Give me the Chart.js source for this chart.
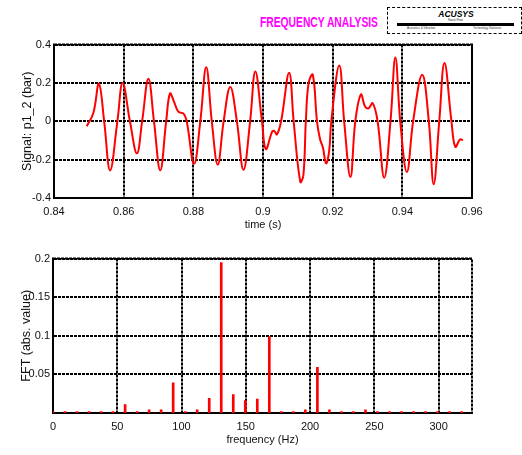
<!DOCTYPE html>
<html>
<head>
<meta charset="utf-8">
<script src="https://cdn.jsdelivr.net/npm/chart.js@4.4.1/dist/chart.umd.min.js"></script>
<style>
body { margin: 0; background: #fff; width: 522px; height: 455px; overflow: hidden; position: relative; font-family: "Liberation Sans", Arial, sans-serif; }
canvas { position: absolute; left: 0; }
#header { position: absolute; left: 260px; top: 15px; color: #ff00ff; font-weight: bold; font-size: 14px; line-height: 14px; white-space: nowrap; transform: scaleX(0.735); transform-origin: left top; }
#logo { position: absolute; left: 387px; top: 7px; width: 135px; height: 27px; border: 1.5px dashed #000; box-sizing: border-box; }
#logo .name { position: absolute; left: 0; width: 136px; top: 1px; text-align: center; font-size: 8.5px; font-weight: bold; font-style: italic; }
#logo .bar { position: absolute; left: 9px; top: 15px; width: 117px; height: 3px; background: #000; }
#logo .tiny { position: absolute; font-size: 3px; line-height: 3px; color: #333; white-space: nowrap; }
</style>
</head>
<body>
<div id="header">FREQUENCY ANALYSIS</div>
<div id="logo">
  <div class="name">ACUSYS</div>
  <div class="tiny" style="left:60px;top:11px">Noise Flow</div>
  <div class="bar"></div>
  <div class="tiny" style="left:19px;top:19px">Acoustics &amp; Vibration</div>
  <div class="tiny" style="left:85px;top:19px">Technology Solutions</div>
</div>
<canvas id="sig" width="522" height="200" style="top:35px"></canvas>
<canvas id="fft" width="522" height="201" style="top:249px"></canvas>
<script>
// time signal p1_2 (s, bar)
const time = [0.8494, 0.8513, 0.8529, 0.8544, 0.8561, 0.8582, 0.8597, 0.8618, 0.8638, 0.8653,
  0.8671, 0.8687, 0.8705, 0.8722, 0.8733, 0.8745, 0.8757, 0.8772, 0.8781, 0.8802,
  0.8820, 0.8837, 0.8853, 0.8870, 0.8887, 0.8906, 0.8925, 0.8944, 0.8963, 0.8978,
  0.8997, 0.9008, 0.9026, 0.9032, 0.9040, 0.9052, 0.9075, 0.9088, 0.9107, 0.9116,
  0.9123, 0.9131, 0.9143, 0.9155, 0.9164, 0.9172, 0.9181, 0.9190, 0.9196, 0.9219,
  0.9233, 0.9251, 0.9265, 0.9281, 0.9293, 0.9303, 0.9315, 0.9329, 0.9348, 0.9366,
  0.9380, 0.9394, 0.9413, 0.9431, 0.9457, 0.9476, 0.9490, 0.9506, 0.9521, 0.9541,
  0.9552, 0.9566, 0.9574];
const signal = [-0.026, 0.043, 0.196, 0.0, -0.256, 0.0, 0.200, 0.0, -0.167, 0.0,
  0.222, 0.0, -0.256, 0.0, 0.145, 0.100, 0.050, 0.040, 0.0, -0.222,
  0.0, 0.282, 0.0, -0.226, 0.0, 0.179, 0.0, -0.253, 0.0, 0.260,
  0.0, -0.145, -0.055, -0.050, -0.068, 0.0, 0.253, 0.0, -0.316, -0.280,
  0.0, 0.200, 0.243, 0.0, -0.095, -0.137, -0.219, -0.154, 0.0, 0.291,
  0.0, -0.291, 0.0, 0.140, 0.077, 0.068, 0.094, 0.0, -0.294, 0.0,
  0.333, 0.0, -0.265, 0.0, 0.243, 0.0, -0.328, 0.0, 0.304, 0.0,
  -0.133, -0.094, -0.099];

// spectrum lines (Hz, abs value)
const freq = [0, 9.35, 18.7, 28.05, 37.4, 46.75, 56.1, 65.45, 74.8, 84.15,
  93.5, 102.85, 112.2, 121.55, 130.9, 140.25, 149.6, 158.95, 168.3, 177.65,
  187.0, 196.35, 205.7, 215.05, 224.4, 233.75, 243.1, 252.45, 261.8, 271.15,
  280.5, 289.85, 299.2, 308.55, 317.9];
const amp = [0.002, 0.002, 0.002, 0.002, 0.002, 0.002, 0.011, 0.002, 0.004, 0.004,
  0.039, 0.002, 0.004, 0.019, 0.195, 0.024, 0.016, 0.018, 0.099, 0.002,
  0.002, 0.004, 0.059, 0.004, 0.002, 0.002, 0.004, 0.002, 0.002, 0.002,
  0.002, 0.002, 0.002, 0.002, 0.002];

const timeTicks = [0.84, 0.86, 0.88, 0.9, 0.92, 0.94, 0.96];
const sigTicks = [-0.4, -0.2, 0, 0.2, 0.4];
const freqTicks = [0, 50, 100, 150, 200, 250, 300];
const ampTicks = [0.05, 0.1, 0.15, 0.2];

Chart.defaults.font.family = '"Liberation Sans", Arial, sans-serif';
Chart.defaults.font.size = 11;
Chart.defaults.color = '#111';

const boxPlugin = {
  id: 'box',
  beforeDatasetsDraw(chart) {
    const a = chart.chartArea, ctx = chart.ctx;
    ctx.save();
    ctx.strokeStyle = '#000';
    ctx.lineWidth = 2;
    ctx.setLineDash([3, 1]);
    ctx.strokeRect(a.left, a.top, a.right - a.left, a.bottom - a.top);
    ctx.restore();
  }
};

const gridStyle = { color: '#000', lineWidth: 2, drawTicks: false };
const borderStyle = { color: '#000', width: 2, dash: [3, 1] };
const fmt = v => String(+v.toFixed(3));
const useTicks = list => scale => {
  scale.ticks = list.map(v => ({ value: v }));
};

new Chart(document.getElementById('sig'), {
  type: 'line',
  data: {
    datasets: [{
      data: time.map((t, i) => ({ x: t, y: signal[i] })),
      borderColor: '#ff0000',
      borderWidth: 2,
      pointRadius: 0,
      tension: 0.4
    }]
  },
  options: {
    responsive: false,
    animation: false,
    devicePixelRatio: 1,
    layout: { padding: { top: 7, right: 50, left: 0, bottom: 0 } },
    plugins: { legend: { display: false }, tooltip: { enabled: false } },
    scales: {
      x: {
        type: 'linear', min: 0.84, max: 0.96, offset: false,
        afterBuildTicks: useTicks(timeTicks),
        afterFit: s => { s.height = 37; },
        grid: gridStyle, border: borderStyle,
        ticks: { padding: 7, maxRotation: 0, callback: fmt },
        title: { display: true, text: 'time (s)', font: { size: 11 }, padding: { top: 0, bottom: 3 } }
      },
      y: {
        min: -0.4, max: 0.4,
        afterBuildTicks: useTicks(sigTicks),
        afterFit: s => { s.width = 54; },
        grid: gridStyle, border: borderStyle,
        ticks: { padding: 3, callback: fmt },
        title: { display: true, text: 'Signal: p1_2 (bar)', font: { size: 12.5 }, padding: { top: 20, bottom: 0 } }
      }
    }
  },
  plugins: [boxPlugin]
});

new Chart(document.getElementById('fft'), {
  type: 'bar',
  data: {
    datasets: [{
      data: freq.map((f, i) => ({ x: f, y: amp[i] })),
      backgroundColor: '#ff0000',
      barThickness: 2
    }]
  },
  options: {
    responsive: false,
    animation: false,
    devicePixelRatio: 1,
    layout: { padding: { top: 7, right: 50, left: 0, bottom: 0 } },
    plugins: { legend: { display: false }, tooltip: { enabled: false } },
    scales: {
      x: {
        type: 'linear', min: 0, max: 326, offset: false,
        afterBuildTicks: useTicks(freqTicks),
        afterFit: s => { s.height = 37; },
        grid: Object.assign({ offset: false }, gridStyle), border: borderStyle,
        ticks: { padding: 7, maxRotation: 0, callback: fmt },
        title: { display: true, text: 'frequency (Hz)', font: { size: 11 }, padding: { top: 0, bottom: 3 } }
      },
      y: {
        min: 0, max: 0.2,
        afterBuildTicks: useTicks(ampTicks),
        afterFit: s => { s.width = 53; },
        grid: gridStyle, border: borderStyle,
        ticks: { padding: 3, callback: fmt },
        title: { display: true, text: 'FFT (abs. value)', font: { size: 12.5 }, padding: { top: 19, bottom: 0 } }
      }
    }
  },
  plugins: [boxPlugin]
});
</script>
</body>
</html>
